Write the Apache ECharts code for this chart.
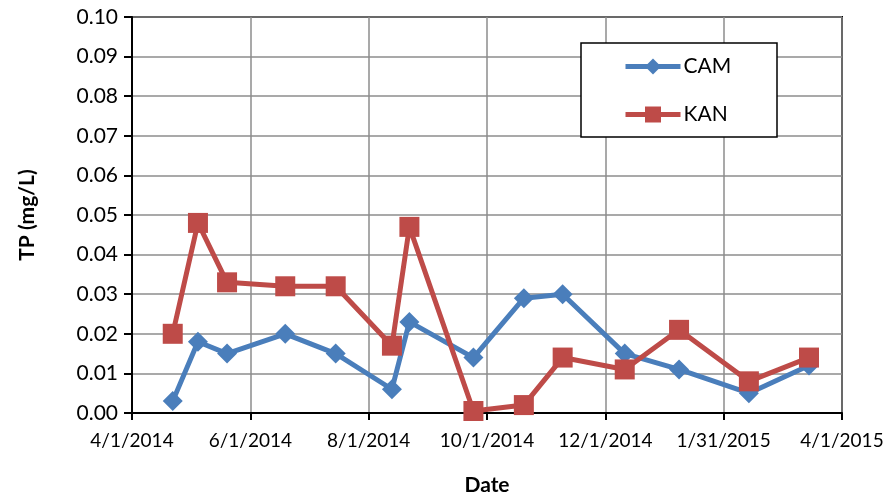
<!DOCTYPE html>
<html>
<head>
<meta charset="utf-8">
<script src="https://cdn.jsdelivr.net/npm/echarts@6/dist/echarts.min.js"></script>
<style>
  html, body { margin: 0; padding: 0; background: #fff; }
  #chart { width: 893px; height: 499px; }
</style>
</head>
<body>
<div id="chart"></div>
<script>
// sampling dates (m/d/yyyy)
const sampleDates = ['4/22/2014', '5/5/2014', '5/20/2014', '6/19/2014', '7/15/2014', '8/13/2014', '8/22/2014',
  '9/24/2014', '10/20/2014', '11/9/2014', '12/11/2014', '1/8/2015', '2/13/2015', '3/16/2015']
const camValues = [0.003, 0.018, 0.015, 0.020, 0.015, 0.006, 0.023, 0.014, 0.029, 0.030, 0.015, 0.011, 0.005, 0.012]
const kanValues = [0.020, 0.048, 0.033, 0.032, 0.032, 0.017, 0.047, 0.0005, 0.002, 0.014, 0.011, 0.021, 0.008, 0.014]
const xTickLabels = ['4/1/2014', '6/1/2014', '8/1/2014', '10/1/2014', '12/1/2014', '1/31/2015', '4/1/2015']

const startDate = '4/1/2014'
const dayStep = 61

const toUTC = (s) => {
  const [m, d, y] = s.split('/').map(Number)
  return Date.UTC(y, m - 1, d)
}
const dayOffset = (s) => Math.round((toUTC(s) - toUTC(startDate)) / 86400000)

const font = 'Lato'
const chart = echarts.init(document.getElementById('chart'))

const options = {
  animation: false,
  textStyle: { fontFamily: font, color: '#000' },
  grid: {
    left: 132,
    right: 51,
    top: 17,
    bottom: 86,
    outerBoundsMode: 'none',
    containLabel: false,
    show: true,
    borderColor: '#000',
    borderWidth: 2
  },
  graphic: [
    {
      type: 'rect',
      shape: { x: 581, y: 43, width: 196, height: 94 },
      style: { fill: '#fff', stroke: '#000', lineWidth: 1.5 },
      z: 10
    }
  ],
  legend: {
    orient: 'vertical',
    left: 623,
    top: 56,
    padding: 0,
    itemWidth: 55,
    itemHeight: 20,
    itemGap: 27,
    z: 11,
    lineStyle: { width: 5 },
    textStyle: { fontFamily: font, fontSize: 21, color: '#000', padding: [0, 0, 0, -2] },
    data: ['CAM', 'KAN']
  },
  xAxis: {
    type: 'value',
    min: 0,
    max: dayStep * (xTickLabels.length - 1),
    interval: dayStep,
    name: 'Date',
    nameLocation: 'middle',
    nameGap: 62,
    nameTextStyle: { fontFamily: font, fontSize: 21, fontWeight: 'bold', color: '#000' },
    axisLine: { lineStyle: { color: '#000', width: 2 } },
    axisTick: { show: true, length: 7, lineStyle: { color: '#000', width: 2 } },
    axisLabel: {
      fontFamily: font,
      fontSize: 19,
      color: '#000',
      margin: 18,
      formatter: (v) => xTickLabels[Math.round(v / dayStep)]
    },
    splitLine: { show: true, lineStyle: { color: '#8c8c8c', width: 1.5 } }
  },
  yAxis: {
    type: 'value',
    min: 0,
    max: 0.1,
    interval: 0.01,
    name: 'TP (mg/L)',
    nameLocation: 'middle',
    nameGap: 94,
    nameTextStyle: { fontFamily: font, fontSize: 21, fontWeight: 'bold', color: '#000' },
    axisLine: { show: true, lineStyle: { color: '#000', width: 2 } },
    axisTick: { show: true, length: 8, lineStyle: { color: '#000', width: 2 } },
    axisLabel: {
      fontFamily: font,
      fontSize: 21,
      color: '#000',
      margin: 14,
      formatter: (v) => v.toFixed(2)
    },
    splitLine: { show: true, lineStyle: { color: '#8c8c8c', width: 1.5 } }
  },
  series: [
    {
      name: 'CAM',
      type: 'line',
      color: '#4a7ebb',
      symbol: 'diamond',
      symbolSize: 20,
      lineStyle: { width: 5 },
      data: sampleDates.map((d, i) => [dayOffset(d), camValues[i]])
    },
    {
      name: 'KAN',
      type: 'line',
      color: '#be4b48',
      symbol: 'rect',
      symbolSize: 20,
      lineStyle: { width: 5 },
      data: sampleDates.map((d, i) => [dayOffset(d), kanValues[i]])
    }
  ]
}

chart.setOption(options)
</script>
</body>
</html>
